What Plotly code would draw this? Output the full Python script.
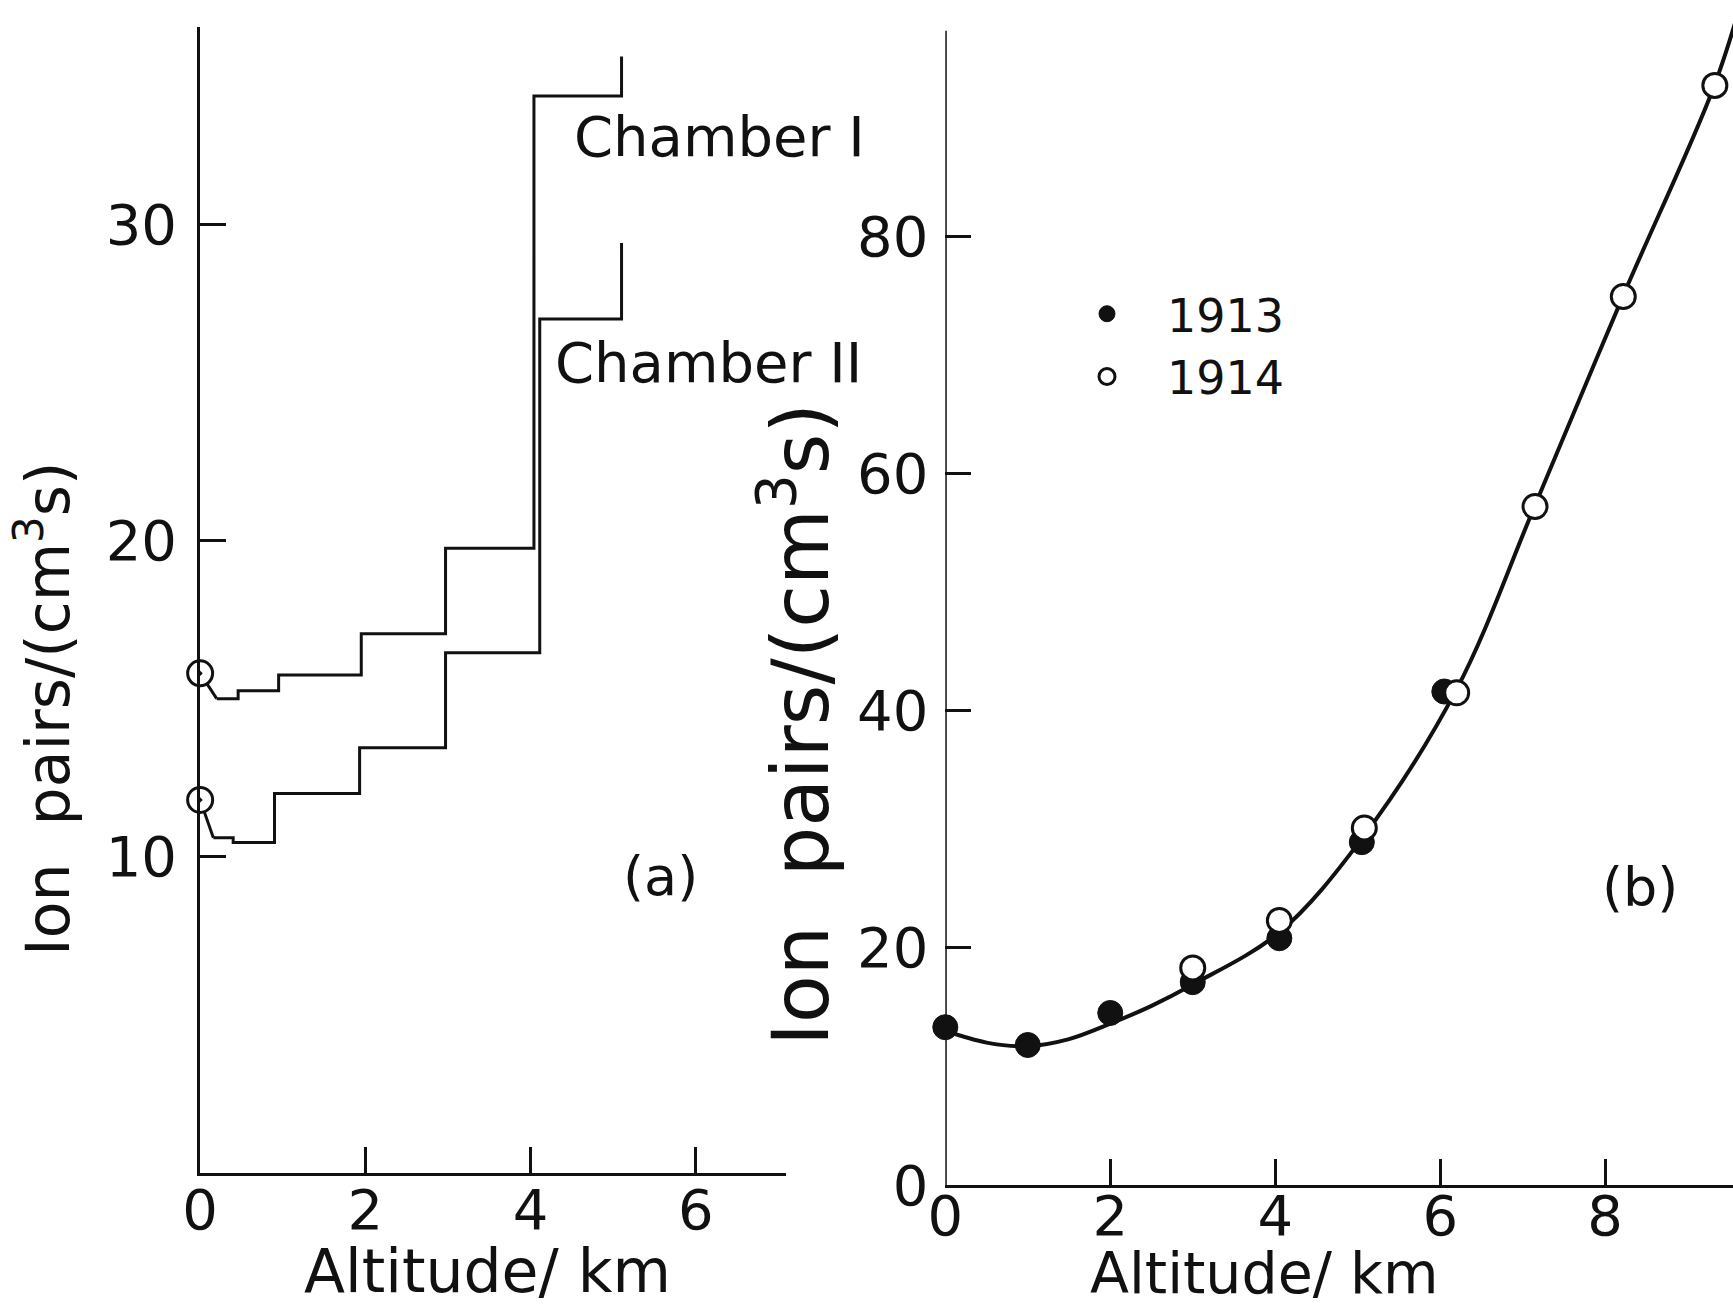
import plotly.graph_objects as go

# ---------------- data ----------------
# Panel (a): ionisation in two chambers vs altitude (step profiles)
ch1_alt = [0.0, 0.2, 0.46, 0.95, 1.95, 2.97, 4.04, 5.1]
ch1_ion = [15.8, 15.0, 15.25, 15.75, 17.05, 19.75, 34.05, 35.3]
ch2_alt = [0.0, 0.16, 0.4, 0.9, 1.93, 2.97, 4.11, 5.1]
ch2_ion = [11.8, 10.6, 10.45, 12.0, 13.45, 16.45, 27.0, 29.4]

# Panel (b): Kolhoerster measurements
alt_1913 = [0.0, 1.0, 2.0, 3.0, 4.05, 5.05, 6.05]
ion_1913 = [13.3, 11.8, 14.5, 17.1, 20.8, 28.9, 41.6]
alt_1914 = [3.0, 4.05, 5.08, 6.2, 7.15, 8.22, 9.33]
ion_1914 = [18.3, 22.3, 30.1, 41.5, 57.2, 74.9, 92.7]
curve_alt = [0, 0.5, 1, 1.5, 2, 2.5, 3, 4.05, 5.05, 6.2, 7.15, 8.22, 9.33, 9.7]
curve_ion = [13.0, 12.0, 11.7, 12.3, 13.6, 15.1, 16.9, 21.3, 29.2, 41.8, 57.3, 75.0, 92.8, 101.0]

xticks_a = [0, 2, 4, 6]
yticks_a = [10, 20, 30]
xticks_b = [0, 2, 4, 6, 8]
yticks_b = [0, 20, 40, 60, 80]

# ---------------- figure ----------------
W, H = 1733, 1311
FONT = "DejaVu Sans"
INK = "#111111"

fig = go.Figure()

# Chamber I
fig.add_trace(go.Scatter(x=ch1_alt[:2], y=ch1_ion[:2], mode="lines",
                         line=dict(color=INK, width=3), showlegend=False,
                         xaxis="x", yaxis="y", hoverinfo="skip"))
fig.add_trace(go.Scatter(x=ch1_alt[1:], y=ch1_ion[1:], mode="lines",
                         line=dict(color=INK, width=3, shape="hv"), showlegend=False,
                         xaxis="x", yaxis="y"))
# Chamber II
fig.add_trace(go.Scatter(x=ch2_alt[:2], y=ch2_ion[:2], mode="lines",
                         line=dict(color=INK, width=3), showlegend=False,
                         xaxis="x", yaxis="y", hoverinfo="skip"))
fig.add_trace(go.Scatter(x=ch2_alt[1:], y=ch2_ion[1:], mode="lines",
                         line=dict(color=INK, width=3, shape="hv"), showlegend=False,
                         xaxis="x", yaxis="y"))
# ground-level circles
fig.add_trace(go.Scatter(x=[ch1_alt[0], ch2_alt[0]], y=[ch1_ion[0], ch2_ion[0]],
                         mode="markers", cliponaxis=False,
                         marker=dict(symbol="circle-dot", size=25, color="white",
                                     line=dict(color=INK, width=3)),
                         showlegend=False, xaxis="x", yaxis="y"))

# Panel (b) curve and points
fig.add_trace(go.Scatter(x=curve_alt, y=curve_ion, mode="lines",
                         line=dict(color=INK, width=4, shape="spline", smoothing=1.0),
                         showlegend=False, xaxis="x2", yaxis="y2"))
fig.add_trace(go.Scatter(x=alt_1913, y=ion_1913, mode="markers", name="1913",
                         cliponaxis=False,
                         marker=dict(symbol="circle", size=25, color=INK,
                                     line=dict(color=INK, width=1)),
                         xaxis="x2", yaxis="y2"))
fig.add_trace(go.Scatter(x=alt_1914, y=ion_1914, mode="markers", name="1914",
                         cliponaxis=False,
                         marker=dict(symbol="circle", size=24, color="white",
                                     line=dict(color=INK, width=3)),
                         xaxis="x2", yaxis="y2"))

axis_common = dict(showgrid=False, zeroline=False, ticks="inside", ticklen=26,
                   tickwidth=3, tickcolor=INK, linecolor=INK, linewidth=3,
                   tickfont=dict(family=FONT, size=56, color=INK))

fig.update_layout(
    width=W, height=H, autosize=False,
    margin=dict(l=0, r=0, t=0, b=0),
    paper_bgcolor="white", plot_bgcolor="white",
    font=dict(family=FONT, color=INK),
    xaxis=dict(domain=[0.1062, 0.4478], range=[0, 7.09], tickmode="array",
               tickvals=xticks_a, showline=True, anchor="y",
               ticklabelstandoff=-14, **axis_common),
    yaxis=dict(domain=[0.082, 0.9789], range=[0, 36.23], tickmode="array",
               tickvals=yticks_a, showline=True, anchor="x",
               ticklabelstandoff=9, **axis_common),
    xaxis2=dict(domain=[0.5407, 1.0], range=[0, 9.55], tickmode="array",
                tickvals=xticks_b, showline=True, anchor="y2",
                ticklabelstandoff=-20, **axis_common),
    yaxis2=dict(domain=[0.0728, 1.0], range=[0, 99.9], tickmode="array",
                tickvals=yticks_b, showline=False, anchor="x2",
                ticklabelstandoff=16, **axis_common),
    showlegend=True,
    legend=dict(x=0.600, y=0.783, xanchor="left", yanchor="top",
                font=dict(family=FONT, size=46, color=INK),
                itemwidth=110, bgcolor="rgba(0,0,0,0)", tracegroupgap=0),
)

# y axis line of panel (b) (stops a little below the top)
fig.add_shape(type="line", xref="x2", yref="y2", x0=0, x1=0, y0=0, y1=97.3,
              line=dict(color=INK, width=3))

def ann(text, x, y, size, angle=0, xanchor="center"):
    fig.add_annotation(text=text, x=x, y=y, xref="paper", yref="paper",
                       showarrow=False, textangle=angle, xanchor=xanchor,
                       yanchor="middle", font=dict(family=FONT, size=size, color=INK))

ann("Chamber I", 0.3231, 0.8932, 56, xanchor="left")
ann("Chamber II", 0.3122, 0.7162, 56, xanchor="left")
ann("(a)", 0.3745, 0.3143, 54)
ann("(b)", 0.9458, 0.3059, 54)
ann("Altitude/ km", 0.2735, 0.0055, 60)
ann("Altitude/ km", 0.7271, 0.0040, 57)
ann("Ion  pairs/(cm<sup>3</sup>s)", 0.0150, 0.4458, 60, angle=-90)
ann("Ion  pairs/(cm<sup>3</sup>s)", 0.4535, 0.4333, 78, angle=-90)

fig.write_html("out.html", config={"displayModeBar": False},
               post_script="document.body.style.margin='0';")
